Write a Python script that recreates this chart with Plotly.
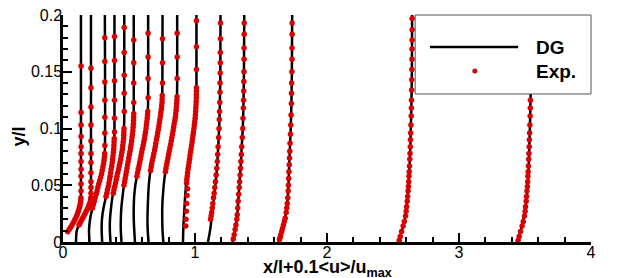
import plotly.graph_objects as go

# ---------------- DATA ----------------
# DG (computed) profiles: x/l + 0.1<u>/u_max versus y/l, 15 stations
dg_x = [
    [0.030, 0.053, 0.083, 0.110, 0.129, 0.135, 0.136, 0.136, 0.136, 0.136],
    [0.098, 0.100, 0.104, 0.121, 0.144, 0.167, 0.189, 0.205, 0.211, 0.212, 0.212],
    [0.201, 0.197, 0.205, 0.223, 0.246, 0.269, 0.292, 0.309, 0.317, 0.317],
    [0.297, 0.293, 0.295, 0.307, 0.326, 0.345, 0.360, 0.373, 0.383, 0.388, 0.390, 0.390],
    [0.360, 0.355, 0.356, 0.364, 0.375, 0.394, 0.413, 0.432, 0.447, 0.457, 0.462, 0.464, 0.464],
    [0.443, 0.438, 0.438, 0.442, 0.451, 0.462, 0.477, 0.492, 0.508, 0.521, 0.531, 0.535, 0.536, 0.536],
    [0.545, 0.540, 0.536, 0.536, 0.539, 0.548, 0.563, 0.581, 0.598, 0.615, 0.629, 0.639, 0.644, 0.645],
    [0.648, 0.642, 0.640, 0.642, 0.645, 0.650, 0.659, 0.674, 0.692, 0.708, 0.723, 0.737, 0.748, 0.752, 0.754],
    [0.760, 0.754, 0.752, 0.752, 0.756, 0.763, 0.773, 0.788, 0.805, 0.822, 0.837, 0.851, 0.860, 0.864, 0.865],
    [0.909, 0.911, 0.915, 0.920, 0.925, 0.932, 0.942, 0.955, 0.967, 0.980, 0.992, 1.001, 1.007, 1.010, 1.011, 1.011],
    [1.098, 1.114, 1.125, 1.135, 1.144, 1.154, 1.163, 1.169, 1.174, 1.183, 1.188, 1.192, 1.193],
    [1.282, 1.303, 1.317, 1.324, 1.330, 1.336, 1.342, 1.348, 1.352, 1.362, 1.367, 1.371, 1.373],
    [1.635, 1.658, 1.680, 1.695, 1.703, 1.708, 1.711, 1.718, 1.725, 1.730, 1.734, 1.736],
    [2.544, 2.555, 2.567, 2.589, 2.602, 2.611, 2.617, 2.623, 2.630, 2.635, 2.640, 2.643, 2.645],
    [3.445, 3.456, 3.468, 3.488, 3.504, 3.513, 3.520, 3.526, 3.532, 3.537, 3.542, 3.545, 3.547],
]
dg_y = [
    [0.008, 0.012, 0.018, 0.025, 0.032, 0.037, 0.045, 0.06, 0.1, 0.2],
    [0, 0.005, 0.01, 0.015, 0.02, 0.025, 0.03, 0.035, 0.04, 0.05, 0.2],
    [0, 0.01, 0.02, 0.03, 0.04, 0.05, 0.06, 0.07, 0.08, 0.2],
    [0, 0.01, 0.02, 0.03, 0.04, 0.05, 0.06, 0.07, 0.08, 0.09, 0.1, 0.2],
    [0, 0.01, 0.02, 0.03, 0.04, 0.05, 0.06, 0.07, 0.08, 0.09, 0.1, 0.11, 0.2],
    [0, 0.01, 0.02, 0.03, 0.04, 0.05, 0.06, 0.07, 0.08, 0.09, 0.1, 0.11, 0.12, 0.2],
    [0, 0.01, 0.02, 0.03, 0.04, 0.05, 0.06, 0.07, 0.08, 0.09, 0.1, 0.11, 0.12, 0.2],
    [0, 0.01, 0.02, 0.03, 0.04, 0.05, 0.06, 0.07, 0.08, 0.09, 0.1, 0.11, 0.12, 0.13, 0.2],
    [0, 0.01, 0.02, 0.03, 0.04, 0.05, 0.06, 0.07, 0.08, 0.09, 0.1, 0.11, 0.12, 0.13, 0.2],
    [0, 0.01, 0.02, 0.03, 0.04, 0.05, 0.06, 0.07, 0.08, 0.09, 0.1, 0.11, 0.12, 0.13, 0.14, 0.2],
    [0, 0.01, 0.02, 0.03, 0.04, 0.05, 0.06, 0.07, 0.08, 0.1, 0.12, 0.15, 0.2],
    [0, 0.01, 0.02, 0.03, 0.04, 0.05, 0.06, 0.07, 0.08, 0.1, 0.12, 0.15, 0.2],
    [0, 0.01, 0.02, 0.03, 0.04, 0.05, 0.06, 0.08, 0.1, 0.12, 0.15, 0.2],
    [0, 0.005, 0.01, 0.02, 0.03, 0.04, 0.05, 0.06, 0.08, 0.1, 0.125, 0.15, 0.2],
    [0, 0.005, 0.01, 0.02, 0.03, 0.04, 0.05, 0.06, 0.08, 0.1, 0.125, 0.15, 0.2],
]

# Experimental profiles
exp_x = [
    [0.036, 0.047, 0.058, 0.068, 0.078, 0.087, 0.095, 0.103, 0.110, 0.116, 0.121, 0.126, 0.130, 0.133, 0.135, 0.136,
     0.137, 0.137, 0.137, 0.137, 0.137, 0.137, 0.137, 0.137, 0.137, 0.137, 0.137],
    [0.121, 0.130, 0.139, 0.148, 0.158, 0.167, 0.176, 0.185, 0.193, 0.199, 0.205, 0.209, 0.211,
     0.212, 0.212, 0.212, 0.212, 0.212, 0.212, 0.212, 0.212, 0.212, 0.212, 0.212],
    [0.223, 0.230, 0.237, 0.244, 0.251, 0.258, 0.264, 0.271, 0.278, 0.285, 0.292, 0.297, 0.302, 0.307, 0.311, 0.314, 0.316,
     0.317, 0.317, 0.317, 0.317, 0.317, 0.317, 0.317],
    [0.326, 0.332, 0.337, 0.343, 0.348, 0.353, 0.357, 0.361, 0.365, 0.369, 0.373, 0.376, 0.379, 0.382, 0.384, 0.386, 0.387, 0.388,
     0.390, 0.390, 0.390, 0.390, 0.390, 0.390],
    [0.381, 0.386, 0.392, 0.398, 0.404, 0.409, 0.415, 0.421, 0.426, 0.432, 0.437, 0.441, 0.446, 0.450, 0.453, 0.456, 0.459, 0.460, 0.461, 0.462,
     0.464, 0.464, 0.464, 0.464, 0.464],
    [0.462, 0.467, 0.471, 0.476, 0.480, 0.485, 0.489, 0.494, 0.498, 0.503, 0.508, 0.512, 0.516, 0.520, 0.523, 0.526, 0.529, 0.531, 0.533, 0.534, 0.535, 0.536,
     0.536, 0.536, 0.536, 0.536],
    [0.560, 0.565, 0.570, 0.576, 0.581, 0.586, 0.591, 0.596, 0.601, 0.607, 0.612, 0.617, 0.621, 0.625, 0.629, 0.632, 0.635, 0.638, 0.640, 0.642,
     0.645, 0.645, 0.645, 0.645],
    [0.663, 0.668, 0.672, 0.677, 0.683, 0.688, 0.694, 0.699, 0.703, 0.708, 0.713, 0.717, 0.722, 0.726, 0.730, 0.734, 0.738, 0.741, 0.745, 0.748, 0.750, 0.751, 0.752,
     0.754, 0.754, 0.754],
    [0.776, 0.780, 0.785, 0.790, 0.795, 0.800, 0.805, 0.810, 0.815, 0.820, 0.825, 0.829, 0.834, 0.838, 0.842, 0.847, 0.851, 0.854, 0.857, 0.859, 0.861, 0.863, 0.864,
     0.865, 0.865, 0.865],
    [0.930, 0.932, 0.934, 0.937, 0.940, 0.944,
     0.936, 0.938, 0.941, 0.944, 0.947, 0.951, 0.955, 0.959, 0.962, 0.966, 0.970, 0.974, 0.978, 0.981, 0.985, 0.988, 0.992, 0.995, 0.998,
     1.001, 1.003, 1.005, 1.006, 1.008, 1.009, 1.010, 1.010, 1.011, 1.011,
     1.011, 1.011, 1.011],
    [1.118, 1.122, 1.126, 1.131, 1.135, 1.140, 1.145, 1.150, 1.155, 1.160, 1.165, 1.169, 1.172, 1.175, 1.179, 1.182, 1.184, 1.186, 1.188,
     1.189, 1.190, 1.191, 1.192, 1.192, 1.193, 1.193],
    [1.290, 1.297, 1.304, 1.310, 1.317, 1.320, 1.324, 1.327, 1.331, 1.335, 1.338, 1.342, 1.345, 1.348, 1.351, 1.354, 1.358, 1.362, 1.364,
     1.366, 1.368, 1.369, 1.370, 1.371, 1.372, 1.372, 1.373, 1.373],
    [1.640, 1.645, 1.650, 1.657, 1.663, 1.670, 1.677, 1.683, 1.691, 1.695, 1.699, 1.703, 1.706, 1.708, 1.710, 1.712, 1.714, 1.716, 1.718,
     1.720, 1.723, 1.726, 1.728, 1.730, 1.731, 1.732, 1.734, 1.735, 1.735, 1.736, 1.736],
    [2.547, 2.555, 2.565, 2.577, 2.586, 2.595, 2.600, 2.603, 2.608, 2.611, 2.614, 2.617, 2.619, 2.621, 2.623, 2.625, 2.627, 2.629, 2.631,
     2.632, 2.634, 2.636, 2.638, 2.639, 2.640, 2.641, 2.642, 2.643, 2.644, 2.644, 2.645, 2.645, 2.645],
    [3.448, 3.456, 3.466, 3.478, 3.487, 3.496, 3.501, 3.504, 3.509, 3.512, 3.515, 3.518, 3.520, 3.522, 3.524, 3.526, 3.528, 3.530, 3.532,
     3.533, 3.535, 3.537, 3.539, 3.540, 3.541, 3.542, 3.543, 3.544, 3.545, 3.545, 3.546, 3.546, 3.546],
]
exp_y = [
    [0.009, 0.011, 0.013, 0.015, 0.017, 0.019, 0.021, 0.023, 0.025, 0.027, 0.029, 0.031, 0.033, 0.035, 0.037, 0.039,
     0.045, 0.051, 0.058, 0.064, 0.071, 0.078, 0.084, 0.093, 0.103, 0.114, 0.155],
    [0.015, 0.017, 0.019, 0.021, 0.023, 0.025, 0.027, 0.029, 0.031, 0.033, 0.035, 0.037, 0.039,
     0.043, 0.048, 0.053, 0.061, 0.070, 0.078, 0.089, 0.103, 0.119, 0.136, 0.153],
    [0.030, 0.033, 0.036, 0.039, 0.042, 0.045, 0.048, 0.051, 0.054, 0.057, 0.060, 0.063, 0.066, 0.069, 0.072, 0.075, 0.078,
     0.085, 0.096, 0.110, 0.125, 0.141, 0.159, 0.180],
    [0.040, 0.043, 0.046, 0.049, 0.052, 0.055, 0.058, 0.061, 0.064, 0.067, 0.070, 0.073, 0.076, 0.079, 0.082, 0.085, 0.088, 0.091,
     0.097, 0.109, 0.125, 0.142, 0.160, 0.181],
    [0.043, 0.046, 0.049, 0.052, 0.055, 0.058, 0.061, 0.064, 0.067, 0.070, 0.073, 0.076, 0.079, 0.082, 0.085, 0.088, 0.091, 0.094, 0.097, 0.100,
     0.115, 0.131, 0.147, 0.167, 0.189],
    [0.050, 0.053, 0.056, 0.059, 0.062, 0.065, 0.068, 0.071, 0.074, 0.077, 0.080, 0.083, 0.086, 0.089, 0.092, 0.095, 0.098, 0.101, 0.104, 0.107, 0.110, 0.113,
     0.123, 0.140, 0.158, 0.178],
    [0.058, 0.061, 0.064, 0.067, 0.070, 0.073, 0.076, 0.079, 0.082, 0.085, 0.088, 0.091, 0.094, 0.097, 0.100, 0.103, 0.106, 0.109, 0.112, 0.115,
     0.127, 0.144, 0.163, 0.184],
    [0.063, 0.066, 0.069, 0.072, 0.075, 0.078, 0.081, 0.084, 0.087, 0.090, 0.093, 0.096, 0.099, 0.102, 0.105, 0.108, 0.111, 0.114, 0.117, 0.120, 0.123, 0.126, 0.129,
     0.140, 0.158, 0.179],
    [0.062, 0.065, 0.068, 0.071, 0.074, 0.077, 0.080, 0.083, 0.086, 0.089, 0.092, 0.095, 0.098, 0.101, 0.104, 0.107, 0.110, 0.113, 0.116, 0.119, 0.122, 0.125, 0.128,
     0.144, 0.163, 0.184],
    [0.014, 0.020, 0.027, 0.034, 0.041, 0.047,
     0.052, 0.055, 0.058, 0.061, 0.064, 0.067, 0.070, 0.073, 0.076, 0.079, 0.082, 0.085, 0.088, 0.091, 0.094, 0.097, 0.100, 0.103, 0.106,
     0.109, 0.112, 0.115, 0.118, 0.121, 0.124, 0.127, 0.130, 0.133, 0.136,
     0.152, 0.172, 0.195],
    [0.020, 0.023, 0.026, 0.030, 0.034, 0.039, 0.043, 0.048, 0.053, 0.059, 0.065, 0.071, 0.077, 0.084, 0.092, 0.100, 0.108, 0.115, 0.123,
     0.132, 0.140, 0.149, 0.158, 0.167, 0.179, 0.193],
    [0.0026, 0.0064, 0.011, 0.015, 0.020, 0.024, 0.030, 0.036, 0.042, 0.048, 0.053, 0.059, 0.065, 0.071, 0.077, 0.084, 0.092, 0.100, 0.109,
     0.118, 0.125, 0.133, 0.1415, 0.150, 0.161, 0.171, 0.183, 0.193],
    [0.002, 0.0041, 0.0064, 0.0093, 0.012, 0.015, 0.018, 0.021, 0.026, 0.030, 0.034, 0.039, 0.045, 0.050, 0.056, 0.062, 0.068, 0.074, 0.080,
     0.087, 0.095, 0.103, 0.112, 0.122, 0.131, 0.140, 0.150, 0.161, 0.171, 0.183, 0.193],
    [0.0014, 0.0049, 0.0093, 0.014, 0.018, 0.023, 0.027, 0.031, 0.036, 0.040, 0.045, 0.049, 0.053, 0.058, 0.062, 0.067, 0.073, 0.078, 0.084,
     0.090, 0.096, 0.103, 0.111, 0.118, 0.125, 0.134, 0.143, 0.152, 0.161, 0.170, 0.178, 0.187, 0.197],
    [0.0014, 0.0049, 0.0093, 0.014, 0.018, 0.023, 0.027, 0.031, 0.036, 0.040, 0.045, 0.049, 0.053, 0.058, 0.062, 0.067, 0.073, 0.078, 0.084,
     0.090, 0.096, 0.103, 0.111, 0.118, 0.125, 0.134, 0.143, 0.152, 0.161, 0.170, 0.178, 0.187, 0.197],
]

x_ticks = [0, 1, 2, 3, 4]
y_ticks = [0, 0.05, 0.1, 0.15, 0.2]
y_ticktext = ["0", "0.05", "0.1", "0.15", "0.2"]
legend_labels = ["DG", "Exp."]

for a, b in zip(dg_x, dg_y):
    assert len(a) == len(b)
for a, b in zip(exp_x, exp_y):
    assert len(a) == len(b), (len(a), len(b))

# ---------------- FIGURE ----------------
FONT = "Liberation Sans, Arial, sans-serif"
RED = "#d80000"

fig = go.Figure()
for xs, ys in zip(dg_x, dg_y):
    fig.add_trace(go.Scatter(x=xs, y=ys, mode="lines",
                             line=dict(color="black", width=2.5, shape="spline", smoothing=0.6),
                             showlegend=False, hoverinfo="skip"))
for xs, ys in zip(exp_x, exp_y):
    fig.add_trace(go.Scatter(x=xs, y=ys, mode="markers",
                             marker=dict(color=RED, size=5.5, line=dict(width=0)),
                             showlegend=False, hoverinfo="skip"))

# the page body adds an 8 px offset, so the figure is 8 px smaller than the window
fig.update_layout(
    width=615, height=270,
    margin=dict(l=55, r=32, t=7, b=36, autoexpand=False),
    paper_bgcolor="white", plot_bgcolor="white",
    showlegend=False,
    font=dict(family=FONT, size=16, color="black"),
)
fig.update_xaxes(range=[0, 4], tickvals=x_ticks, ticktext=[str(v) for v in x_ticks],
                 automargin=False, ticklabeloverflow="allow",
                 showline=True, linecolor="black", linewidth=2.5,
                 ticks="inside", ticklen=9, tickwidth=2, tickcolor="black",
                 minor=dict(ticks="inside", dtick=0.2, ticklen=5, tickwidth=1.5, tickcolor="black"),
                 showgrid=False, zeroline=False, tickfont=dict(size=16),
                 ticklabelstandoff=-6)
fig.update_yaxes(range=[0, 0.2], tickvals=y_ticks, ticktext=y_ticktext,
                 automargin=False, ticklabeloverflow="allow",
                 showline=True, linecolor="black", linewidth=2.5,
                 ticks="inside", ticklen=9, tickwidth=2, tickcolor="black",
                 minor=dict(ticks="inside", dtick=0.01, ticklen=5, tickwidth=1.5, tickcolor="black"),
                 showgrid=False, zeroline=False, tickfont=dict(size=16),
                 ticklabelstandoff=-5)

# axis titles
fig.add_annotation(text="<b>x/l+0.1&lt;u&gt;/u<sub>max</sub></b>", xref="paper", yref="paper",
                   x=0.5, y=-0.058, xanchor="center", yanchor="top", showarrow=False,
                   font=dict(family=FONT, size=18, color="black"))
fig.add_annotation(text="<b>y/l</b>", xref="paper", yref="paper", textangle=-90,
                   x=-0.084, y=0.463, xanchor="center", yanchor="middle", showarrow=False,
                   font=dict(family=FONT, size=18, color="black"))

# legend box (drawn manually)
fig.add_shape(type="rect", xref="paper", yref="paper", x0=0.667, x1=1.0, y0=0.652, y1=1.0,
              fillcolor="white", line=dict(color="#555555", width=1), layer="above")
fig.add_shape(type="line", xref="paper", yref="paper", x0=0.695, x1=0.862, y0=0.859, y1=0.859,
              line=dict(color="black", width=2.5), layer="above")
fig.add_shape(type="circle", xref="paper", yref="paper", xsizemode="pixel", ysizemode="pixel",
              xanchor=0.780, yanchor=0.753, x0=-2.5, x1=2.5, y0=-2.5, y1=2.5,
              fillcolor=RED, line=dict(width=0), layer="above")
fig.add_annotation(text="<b>%s</b>" % legend_labels[0], xref="paper", yref="paper", x=0.892, y=0.859,
                   xanchor="left", yanchor="middle", showarrow=False,
                   font=dict(family=FONT, size=19, color="black"))
fig.add_annotation(text="<b>%s</b>" % legend_labels[1], xref="paper", yref="paper", x=0.892, y=0.749,
                   xanchor="left", yanchor="middle", showarrow=False,
                   font=dict(family=FONT, size=19, color="black"))

fig.write_html("out.html")
